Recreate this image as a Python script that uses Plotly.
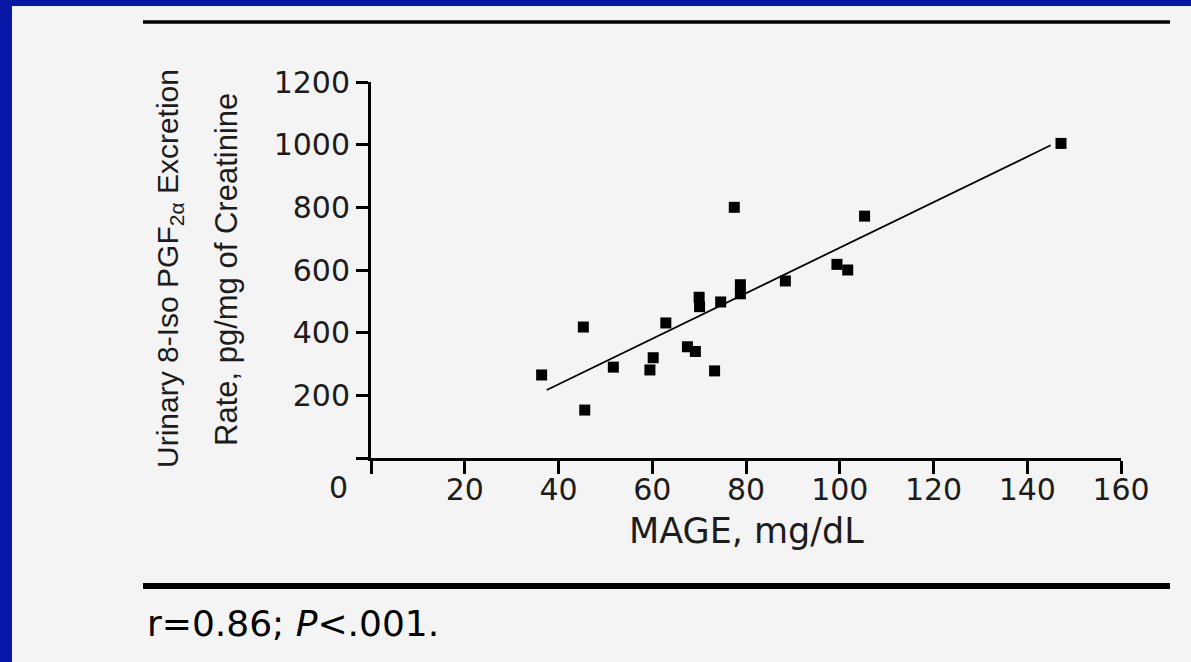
import plotly.graph_objects as go

# ---- data ----
mage = [36.4, 45.3, 45.6, 51.7, 59.5, 60.2, 62.9, 67.5, 69.2, 70.1, 70.0,
        73.3, 74.6, 77.5, 78.8, 78.8, 88.4, 99.4, 101.7, 105.3, 147.2]
iso_pgf = [265, 418, 153, 290, 281, 320, 431, 355, 340, 483, 513,
           278, 498, 800, 553, 524, 565, 618, 600, 772, 1004]
fit_x = [37.5, 145.0]
fit_y = [217, 998]
x_ticks = [0, 20, 40, 60, 80, 100, 120, 140, 160]
x_tick_text = ["", "20", "40", "60", "80", "100", "120", "140", "160"]
y_ticks = [0, 200, 400, 600, 800, 1000, 1200]
y_tick_text = ["", "200", "400", "600", "800", "1000", "1200"]

W, H = 1191, 662
L, R, T, B = 371, 1121, 82, 458  # plot area in pixels
PW, PH = R - L, B - T


def px(x):
    return (x - L) / PW


def py(y):
    return (B - y) / PH


BLUE = "#0818A6"
GRAY = "#F4F4F4"
INK = "#1c1c1c"
HFONT = "DejaVu Sans"
VFONT = "Liberation Sans"

fig = go.Figure()
fig.add_trace(go.Scatter(x=fit_x, y=fit_y, mode="lines",
                         line=dict(color="black", width=1.8),
                         hoverinfo="skip", showlegend=False, cliponaxis=False))
fig.add_trace(go.Scatter(x=mage, y=iso_pgf, mode="markers",
                         marker=dict(symbol="square", size=11, color="black"),
                         showlegend=False, cliponaxis=False))

shapes = [
    # blue frame (left and top)
    dict(type="rect", xref="paper", yref="paper", x0=px(-50), x1=px(12),
         y0=py(H + 50), y1=py(-50), fillcolor=BLUE, line_width=0, layer="above"),
    dict(type="rect", xref="paper", yref="paper", x0=px(-50), x1=px(W + 50),
         y0=py(6), y1=py(-50), fillcolor=BLUE, line_width=0, layer="above"),
    # rules
    dict(type="line", xref="paper", yref="paper", x0=px(143), x1=px(1170),
         y0=py(22), y1=py(22), line=dict(color="black", width=3.5)),
    dict(type="line", xref="paper", yref="paper", x0=px(143), x1=px(1170),
         y0=py(586), y1=py(586), line=dict(color="black", width=6)),
]

annotations = [
    dict(text="Urinary 8-Iso PGF<sub>2α</sub> Excretion", textangle=-90,
         xref="paper", yref="paper", x=px(169), y=py(269),
         xanchor="center", yanchor="middle", showarrow=False,
         font=dict(family=VFONT, size=30, color=INK)),
    dict(text="Rate, pg/mg of Creatinine", textangle=-90,
         xref="paper", yref="paper", x=px(226), y=py(270),
         xanchor="center", yanchor="middle", showarrow=False,
         font=dict(family=VFONT, size=31, color=INK)),
    dict(text="MAGE, mg/dL", xref="paper", yref="paper", x=px(746), y=py(531),
         xanchor="center", yanchor="middle", showarrow=False,
         font=dict(family=HFONT, size=35, color=INK)),
    dict(text="0", xref="paper", yref="paper", x=px(338), y=py(487),
         xanchor="center", yanchor="middle", showarrow=False,
         font=dict(family=HFONT, size=30, color=INK)),
    dict(text="r=0.86; <i>P</i>&lt;.001.", xref="paper", yref="paper",
         x=px(145), y=py(623), xanchor="left", yanchor="middle", showarrow=False,
         font=dict(family=HFONT, size=36, color="black")),
]

axis_common = dict(showgrid=False, zeroline=False, showline=True,
                   linecolor="black", linewidth=3, ticks="outside",
                   tickcolor="black", tickwidth=3,
                   tickfont=dict(family=HFONT, size=30, color=INK))

fig.update_layout(
    width=W, height=H, autosize=False,
    margin=dict(l=L, r=W - R, t=T, b=H - B, pad=0),
    paper_bgcolor=GRAY, plot_bgcolor=GRAY,
    xaxis=dict(range=[0, 160], tickmode="array", tickvals=x_ticks,
               ticktext=x_tick_text, ticklen=13, ticklabelstandoff=-10,
               **axis_common),
    yaxis=dict(range=[0, 1200], tickmode="array", tickvals=y_ticks,
               ticktext=y_tick_text, ticklen=12, **axis_common),
    shapes=shapes, annotations=annotations, showlegend=False,
)

fig.write_html("out.html", config={"displayModeBar": False})
